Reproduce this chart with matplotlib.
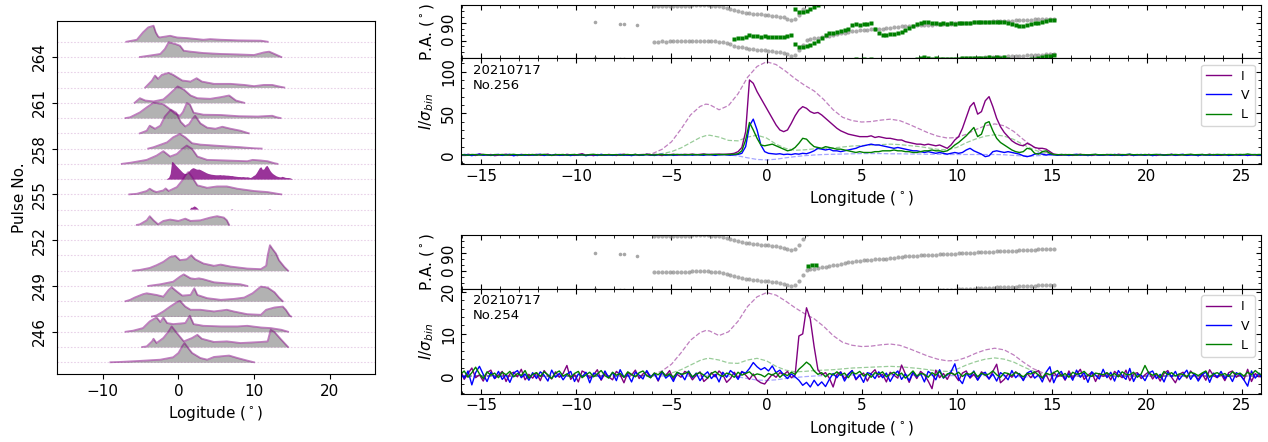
import numpy as np
import matplotlib
matplotlib.use("Agg")
import matplotlib.pyplot as plt
from matplotlib.ticker import AutoMinorLocator, MultipleLocator

# ---- single pulses, I/V/L in units of sigma, 0.2 deg bins starting at -16.1 ----
lon_start = -16.1
lon_step = 0.2

I_256 = [0.3, -0.5, 0.8, 0.2, -0.6, 1.2, 0.4, -0.3, 0.6, -0.8,
         -0.2, 0.5, 0.9, -0.4, 0.1, -0.7, 0.6, 0.3, -0.5, 0.2,
         0.7, -0.3, 0.4, 1.0, -0.6, 0.2, 0.5, -0.4, 0.8, 0.1,
         -0.5, 0.6, 1.5, -0.2, 0.3, -0.8, 0.5, 0.2, -0.4, 0.7,
         0.1, -0.6, 0.4, 0.9, -0.3, 0.2, 0.6, -0.5, 0.3, 0.8,
         -0.4, 0.5, 0.2, -0.7, 0.6, 0.3, 0.9, -0.2, 0.4, 0.7,
         0.5, 1.0, 0.3, 0.8, 1.2, 0.4, 0.9, 0.6, 1.1, 0.7,
         1.0, 1.3, 2.0, 4.0, 9.0, 28, 90, 86, 76, 68,
         60, 52, 44, 36, 30, 28, 30, 38, 47, 54,
         58, 56, 52, 50, 51, 48, 44, 40, 36, 32,
         29, 27, 25, 24, 23, 22, 22, 22, 23, 21,
         22, 21, 20, 20, 19, 18, 18, 16, 15, 14,
         13, 13, 12, 13, 12, 11, 12, 10, 8, 12,
         18, 22, 32, 45, 58, 63, 49, 52, 65, 70,
         58, 44, 34, 27, 22, 17, 14, 12, 11, 14,
         12, 9, 8, 8, 7, 4, 1, 0.5, -0.3, 0.6,
         0.2, -0.5, 0.4, 0.8, -0.2, 0.3, -0.6, 0.5, 0.1, -0.4,
         0.6, 0.2, -0.5, 0.9, 0.3, -0.3, 0.5, -0.7, 0.4, 0.2,
         -0.3, 0.7, 0.1, -0.6, 0.5, 0.3, -0.2, 0.8, -0.5, 0.2,
         0.4, -0.4, 0.6, 0.2, -0.7, 0.5, 0.1, 0.9, -0.3, 0.3,
         -0.5, 0.4, 0.2, -0.3, 0.7, -0.1, 0.5, -0.6, 0.3, 0.1,
         0.4, -0.2]

V_256 = [-0.4, 0.6, 0.2, -0.8, 0.5, 0.9, -0.3, 0.4, -0.6, 0.3,
         0.7, -0.5, 0.3, 0.8, -1.0, 0.2, 0.5, -0.4, 0.6, -0.2,
         0.4, 0.9, -0.6, 0.2, -0.3, 0.7, -0.5, 0.3, 0.1, -0.7,
         0.5, -0.2, 0.6, -0.9, 0.3, 0.4, -0.6, 0.8, -0.1, 0.2,
         -0.5, 0.3, 0.7, -0.4, 0.2, -0.8, 0.5, 0.1, -0.3, 0.6,
         0.2, -0.6, 0.4, 0.8, -0.3, 0.5, -0.5, 0.3, 0.6, -0.2,
         0.4, -0.3, 0.5, 0.1, -0.4, 0.6, 0.2, -0.5, 0.3, 0.4,
         0.2, -0.3, 0.3, 0.6, 2, 10, 35, 43, 30, 12,
         4, 2, 1.5, 1, 1.5, 0.5, 1, 0.5, 1.5, 1,
         2, 1.5, 3, 5, 8, 7, 6, 7, 5, 5,
         4, 5, 6, 7, 8, 10, 11, 12, 13, 12,
         12, 11, 10, 9, 8, 9, 8, 7, 6, 5,
         5, 4, 3, 4, 3, 2, 3, 2, 1, 2,
         3, 2, 3, 6, 8, 5, 3, 1, -2, -1,
         4, 5, 4, 3, 4, 3, 2, 1, -1, -2,
         -1, 1, 2, 1, 0, 0.5, 0.2, -0.4, 0.5, 0.3,
         -0.6, 0.4, 0.8, -0.2, 0.5, -0.7, 0.3, 0.6, -0.4, 0.2,
         0.5, -0.3, 0.7, 0.1, -0.6, 0.4, 0.9, -0.5, 0.2, 0.6,
         -0.2, 0.5, -0.8, 0.3, 0.6, -0.4, 0.2, 0.7, -0.3, 0.4,
         0.8, -0.5, 0.3, 0.1, -0.7, 0.5, 0.2, -0.3, 0.6, -0.4,
         0.3, 0.7, -0.6, 0.2, 0.4, -0.2, 0.5, -0.5, 0.3, 0.6,
         -0.3, 0.2]

L_256 = [0.5, 0.2, -0.3, 0.6, 0.4, -0.2, 0.7, 0.3, -0.4, 0.5,
         0.3, 0.6, -0.2, 0.4, 0.8, 0.1, -0.3, 0.5, 0.2, 0.6,
         -0.1, 0.4, 0.7, 0.2, -0.4, 0.5, 0.3, 0.6, -0.2, 0.4,
         0.6, 0.1, 0.3, -0.3, 0.5, 0.8, 0.2, -0.2, 0.4, 0.3,
         0.2, 0.5, -0.3, 0.4, 0.6, 0.1, 0.7, -0.1, 0.3, 0.5,
         0.4, -0.2, 0.6, 0.3, 0.5, 0.1, 0.4, 0.7, 0.2, 0.5,
         0.3, 0.6, 0.4, 0.2, 0.7, 0.5, 0.3, 0.8, 0.4, 0.6,
         0.5, 0.7, 0.8, 1.5, 5, 18, 39, 30, 20, 12,
         11, 12, 13, 11, 9, 7, 5, 6, 9, 14,
         20, 19, 14, 10, 9, 8, 10, 9, 8, 7,
         7, 6, 5, 4, 3, 4, 3, 3, 3, 4,
         4, 5, 5, 5, 6, 5, 5, 4, 4, 3,
         3, 4, 5, 5, 6, 5, 5, 4, 5, 8,
         12, 15, 19, 23, 28, 33, 22, 25, 38, 40,
         29, 20, 15, 12, 9, 6, 4, 3, 4, 8,
         7, 2, 1, 4, 5, 2, 0.5, 0.3, 0.6, 0.2,
         0.5, 0.3, -0.2, 0.6, 0.4, 0.1, 0.5, 0.7, 0.2, 0.4,
         0.3, 0.6, 0.2, -0.1, 0.5, 0.4, 0.8, 0.3, 0.5, 0.1,
         0.6, 0.2, 0.4, 0.7, 0.3, -0.2, 0.5, 0.4, 0.6, 0.3,
         0.2, 0.5, 0.8, 0.3, 0.4, 0.6, 0.1, 0.5, 0.3, 0.7,
         0.4, 0.2, 0.6, 0.5, 0.3, 0.7, 0.4, 1.2, 0.5, 0.3,
         0.6, 0.4]

I_254 = [1.5, -0.8, 0.6, 1.9, -0.4, 0.3, -1.2, 0.8, 1.4, -0.6,
         0.2, 1.1, -1.3, 0.5, 0.9, -0.2, 1.6, -0.9, 0.4, -0.5,
         0.8, -1.1, 1.3, 0.1, -0.7, 1.0, -0.3, 0.6, 2.5, -0.8,
         0.4, -1.4, 1.2, 0.7, -0.5, 0.3, 1.5, -1.0, 0.6, -0.2,
         -0.9, 1.1, 0.3, -1.6, 0.8, 0.2, 1.4, -0.6, 0.5, 1.0,
         -0.4, 0.7, -1.2, 0.9, 0.1, 1.3, -0.8, 0.4, -0.3, 1.1,
         0.6, -0.9, 0.2, 1.0, -1.3, -0.5, 0.8, -0.2, 1.2, 0.3,
         -1.5, -0.6, 0.9, -0.4, 1.1, 0.2, -0.8, 0.5, -1.0, -1.6,
         -1.9, -0.7, 0.4, -0.3, 0.8, 0.3, 1.1, -0.4, 0.2, 9.5,
         10.0, 16.2, 13.5, 7.0, 1.5, 0.3, 0.8, -0.5, -2.6, 0.4,
         1.0, -0.6, 0.5, 1.3, -0.9, 0.2, 0.7, -1.2, 0.6, 1.5,
         -0.3, 0.4, -1.4, 0.9, 0.2, -0.5, 2.6, 0.5, -1.5, 0.8,
         -0.6, 1.1, 0.3, -1.2, -3.0, 1.4, -0.4, 0.6, -0.8, 0.9,
         0.2, -1.1, 0.7, 1.2, -0.5, 0.4, -0.9, 1.0, 0.3, -0.7,
         1.1, 2.8, -1.6, -0.8, 0.5, -0.3, 1.0, 0.2, -0.9, 0.6,
         -0.4, 0.8, 1.3, -0.6, 0.3, -1.4, 0.9, -0.2, 0.5, -1.0,
         1.2, -0.5, 0.4, 1.6, -0.8, 0.2, 0.9, -1.3, 0.6, -0.1,
         0.7, -0.9, 1.1, 0.3, -0.4, 1.4, -1.1, 0.5, 0.8, -0.6,
         0.3, 1.0, -0.7, 0.5, -1.2, 0.6, 1.3, -0.3, -1.6, 0.4,
         0.9, -0.5, 1.2, 0.2, -0.8, 0.6, -1.0, 1.5, 0.1, -0.4,
         0.5, -1.1, 0.8, 1.2, -0.3, 0.4, -0.9, 1.6, -1.3, 0.6,
         -0.2, 0.9]

V_254 = [0.6, -0.5, 1.2, -2.1, 0.8, 2.3, 0.4, -1.3, 0.9, -0.6,
         1.1, -0.8, 0.3, -1.5, 0.7, 1.3, -0.4, 0.5, -1.0, 0.8,
         -0.6, 1.0, 0.2, -1.2, 1.4, -0.3, 0.6, -0.9, 0.4, 1.1,
         -1.3, 0.5, -0.2, 0.9, -1.6, 0.7, 0.3, -0.8, 1.2, -0.4,
         0.8, -1.1, 1.5, -0.3, 0.4, -1.4, 0.9, 0.2, -0.7, 1.3,
         -0.2, 0.6, -1.0, 1.1, -0.5, 0.3, -1.3, 0.8, 0.5, -0.9,
         1.2, -0.4, 0.7, -1.1, 0.2, 1.0, -0.6, 0.4, -1.4, 0.9,
         -0.3, 1.3, 0.5, -0.8, 1.0, 0.7, 1.8, 3.2, 2.2, 1.5,
         2.0, 1.2, 2.4, 0.8, 1.4, 0.3, -0.6, 0.5, -0.2, -1.0,
         -2.2, -1.5, -2.6, -1.0, -2.3, -1.4, -2.5, -0.8, 0.6, -0.4,
         0.9, -1.2, 0.4, 1.3, -0.7, 0.2, -1.5, 0.8, 0.5, -0.6,
         1.0, -0.4, 0.7, -1.3, 0.3, 1.2, -0.8, 0.5, -1.1, 0.9,
         -0.2, 0.6, -1.4, 1.1, 0.4, -0.9, 1.5, -0.5, 0.3, 1.0,
         2.9, -0.6, -1.8, 0.7, -0.3, 1.2, -1.0, 0.4, 0.9, -0.7,
         0.5, -1.2, 0.8, 0.2, -0.9, 1.3, -0.4, 0.6, -1.1, 0.7,
         1.2, -0.5, 0.3, -1.4, 0.9, 2.2, -1.6, 0.4, 1.1, -0.8,
         0.6, -1.0, 1.4, -0.3, 0.8, -1.5, 1.0, 0.2, -0.7, 1.6,
         -0.4, 0.9, -1.2, 1.3, 0.1, -0.8, 1.8, -1.3, 0.5, 0.2,
         -1.1, 0.7, 1.2, -0.6, 0.4, -1.4, 0.9, -0.2, 1.1, -0.9,
         0.3, 1.4, -0.8, 0.6, -1.2, 0.2, 1.0, -1.5, 0.7, -0.3,
         1.1, -0.6, 0.4, -1.3, 0.8, 0.3, -0.9, -2.4, 1.2, -0.5,
         0.7, -1.0]

L_254 = [0.4, 1.2, -0.3, 0.8, 2.1, 0.5, -0.6, 1.0, 0.2, 0.7,
         -0.4, 0.9, 0.3, 1.1, -0.2, 0.6, 0.1, 1.3, -0.5, 0.4,
         0.8, -0.1, 1.0, 0.3, -0.6, 0.7, 1.2, 0.0, 0.5, -0.3,
         0.6, 1.1, -0.4, 0.3, 0.9, -0.2, 0.5, 1.3, 0.1, -0.5,
         0.9, 0.2, 0.6, -0.3, 1.0, 0.4, -0.2, 0.8, 1.2, 0.1,
         -0.4, 0.7, 0.3, 1.1, 0.0, 0.5, -0.3, 0.9, 0.4, 0.6,
         1.0, -0.2, 0.5, 0.8, 0.2, -0.5, 0.6, 1.1, 0.3, -0.1,
         0.7, 0.4, -0.3, 0.9, 0.2, 0.6, 1.0, 0.1, 0.5, 0.3,
         -0.2, 0.6, 0.2, 0.8, -0.3, 0.5, 0.1, 0.9, 0.4, 1.6,
         2.4, 3.3, 2.6, 1.2, 0.4, 0.8, -0.2, 0.6, 0.3, 1.0,
         0.2, 0.7, -0.4, 0.9, 0.5, 1.1, 0.0, 0.6, -0.3, 0.8,
         0.4, 1.0, -0.2, 0.5, 0.9, 0.1, 0.7, -0.5, 0.3, 1.2,
         0.0, 0.6, 0.4, -0.3, 0.8, 0.2, 1.1, -0.4, 0.5, 0.7,
         0.3, 0.9, -0.1, 0.6, 0.4, 1.0, -0.2, 0.7, 0.2, 0.5,
         1.2, 0.3, -0.3, 0.8, 0.6, 0.1, 0.9, 0.4, -0.2, 0.6,
         0.5, 1.0, 0.2, -0.4, 0.7, 0.3, 0.8, 1.3, 0.0, 0.6,
         -0.3, 0.9, 0.4, 0.6, 1.1, 0.2, -0.1, 0.7, 0.5, 0.3,
         0.8, 0.1, 0.6, -0.2, 1.0, 0.4, 0.3, 0.9, -0.3, 0.5,
         2.5, 0.7, 0.2, 0.6, -0.4, 1.1, 0.3, 0.8, 0.0, 0.5,
         0.4, -0.2, 0.9, 0.6, 0.1, 0.7, 1.2, -0.3, 0.5, 0.8,
         0.2, 0.6, -0.1, 1.0, 0.4, 0.7, 0.0, 0.9, 0.3, 1.3,
         0.5, 0.2]

# ---- integrated profile (dashed), in the units of the No.254 panel ----
mean_lon = [-16.1, -7.0, -6.0, -5.5, -5.0, -4.5, -4.0, -3.5, -3.2, -3.0,
            -2.5, -2.0, -1.5, -1.0, -0.5, 0.0, 0.5, 1.0, 1.5, 2.0,
            2.5, 3.0, 3.5, 4.0, 4.5, 5.0, 5.5, 6.0, 6.5, 7.0,
            7.5, 8.0, 8.5, 9.0, 9.5, 10.0, 10.5, 11.0, 11.5, 12.0,
            12.5, 13.0, 13.5, 14.0, 14.5, 15.0, 15.5, 26.1]
mean_I = [0, 0, 0.3, 1.2, 2.8, 5.5, 8.5, 10.3, 10.8, 10.7,
          9.6, 10.5, 13.0, 16.5, 18.8, 19.8, 19.2, 17.8, 16.2, 14.8,
          13.6, 11.8, 9.6, 8.0, 7.3, 7.0, 7.1, 7.4, 7.6, 7.3,
          6.5, 5.6, 4.7, 4.0, 3.6, 3.7, 4.4, 5.4, 6.2, 6.6,
          6.2, 5.0, 3.3, 1.8, 0.8, 0.2, 0, 0]
mean_L = [0, 0, 0.1, 0.3, 0.7, 1.5, 2.6, 3.7, 4.1, 4.2,
          3.8, 3.1, 3.0, 3.8, 4.2, 3.6, 2.3, 1.4, 1.0, 1.1,
          1.3, 1.4, 1.5, 1.7, 1.9, 2.0, 2.1, 2.2, 2.3, 2.2,
          2.0, 1.8, 1.5, 1.2, 1.1, 1.6, 2.6, 3.4, 4.0, 4.3,
          4.0, 3.3, 2.2, 1.2, 0.5, 0.1, 0, 0]
mean_V = [0, 0, 0, 0, 0, 0, 0, 0, 0, 0,
          0, 0, -0.2, -0.6, -0.95, -1.05, -0.9, -0.6, -0.35, -0.15,
          0, 0.1, 0.15, 0.2, 0.25, 0.3, 0.3, 0.3, 0.25, 0.25,
          0.2, 0.2, 0.15, 0.15, 0.1, 0.1, 0.1, 0.1, 0.1, 0.1,
          0.05, -0.1, -0.2, -0.2, -0.1, 0, 0, 0]
mean_scale = {256: 5.65, 254: 1.0}

# ---- position angles (deg) ----
pa_mean_start = -5.9
pa_mean = [-5, -5, -4, -5, -4, -4, -4, -3, -3, -3,
           -2, -2, -2, -2, -2, -3, -4, -6, -9, -14,
           -20, -26, -31, -35, -39, -42, -44, -46, -48, -50,
           -52, -54, -56, -59, -63, -69, -76, -72, -50, -22,
           3, 8, 12, 15, 18, 21, 24, 28, 32, 36,
           40, 43, 46, 49, 51, 53, 55, 56, 58, 59,
           60, 62, 64, 67, 70, 72, 74, 75, 76, 77,
           78, 79, 80, 81, 82, 83, 84, 85, 86, 87,
           88, 89, 90, 91, 92, 93, 94, 95, 96, 97,
           98, 99, 99, 100, 101, 102, 103, 104, 105, 106,
           107, 108, 109, 110, 110, 111]
pa_iso_lon = [-9.0, -7.7, -7.5, -6.8]
pa_iso = [92, 86, 84, 77]

pa_256_start = -1.7
pa_256 = [10, 12, 11, 18, 26, 24, 22, 20, 21, 19,
          18, 17, 16, 17, 22, 30, -20, -33, -35, -30,
          -22, -12, 0, 15, 30, 36, 40, 44, 48, 53,
          60, 80, 84, 78, 86, 82, 88, 60, 38, 30,
          27, 32, 35, 40, 45, 52, 62, 75, 84, 90,
          96, 92, 88, 90, 86, 88, 85, 87, 86, 88,
          90, 89, 91, 93, 92, 94, 93, 95, 94, 96,
          93, 95, 88, 82, 80, 76, 74, 78, 84, 88,
          90, 95, 100, 104, 106]
pa_254_start = 2.2
pa_254 = [26, 28, 29]

# ---- pulse stack: knots of each profile (longitude, height in pulse units) ----
lon_265 = [-6.9, -5.5, -4.7, -4.0, -3.3, -3.0, -2.7, -2.5, -1.1, -0.2, 1.1, 3.3, 4.2, 5.6, 7.8, 10.9, 11.8]
amp_265 = [0, 0.13, 0.61, 0.94, 1.05, 0.61, 0.35, 0.28, 0.39, 0.28, 0.24, 0.13, 0.17, 0.13, 0.09, 0.07, 0]
lon_264 = [-5.1, -3.3, -2.4, -1.8, -1.3, -0.4, 0.2, 0.7, 1.6, 3.3, 5.6, 7.8, 10.0, 11.3, 12.0, 12.7, 13.6]
amp_264 = [0, 0.13, 0.2, 0.52, 0.96, 0.85, 0.74, 0.41, 0.35, 0.26, 0.2, 0.17, 0.13, 0.3, 0.35, 0.2, 0]
lon_262 = [-4.4, -3.5, -3.1, -2.7, -2.2, -1.3, -0.7, 0.5, 1.6, 2.4, 3.1, 4.7, 6.9, 8.7, 10.0, 11.3, 12.4, 13.1, 14.0]
amp_262 = [0, 0.46, 0.78, 0.57, 0.83, 0.96, 0.83, 0.46, 0.39, 0.61, 0.39, 0.24, 0.24, 0.17, 0.09, 0.17, 0.17, 0.09, 0]
lon_261 = [-5.8, -5.1, -4.4, -3.3, -2.0, -1.3, -0.7, -0.1, 0.7, 1.6, 2.5, 4.2, 5.6, 6.7, 7.6, 8.7]
amp_261 = [0, 0.3, 0.15, 0.09, 0.22, 0.52, 0.8, 1.07, 0.87, 0.48, 0.3, 0.26, 0.37, 0.48, 0.15, 0]
lon_260 = [-7.0, -6.4, -5.1, -4.2, -3.3, -2.9, -2.0, -1.3, -0.5, 0.2, 0.6, 1.1, 1.5, 2.0, 3.3, 5.6, 8.0, 10.5, 12.4, 13.0, 13.5]
amp_260 = [0, 0.05, 0.37, 0.7, 1.0, 0.98, 0.9, 0.65, 0.3, 0.15, 0.4, 0.98, 0.9, 0.35, 0.22, 0.2, 0.12, 0.1, 0.15, 0.05, 0]
lon_259 = [-5.1, -4.2, -3.8, -3.1, -2.4, -1.8, -1.0, -0.3, 0.3, 0.9, 1.4, 1.8, 2.2, 2.9, 3.8, 4.9, 5.8, 6.9, 8.2, 9.3]
amp_259 = [0, 0.17, 0.5, 0.3, 0.5, 1.1, 1.55, 1.35, 0.75, 0.45, 0.6, 0.9, 1.15, 0.65, 0.37, 0.3, 0.43, 0.3, 0.17, 0]
lon_258 = [-4.0, -3.3, -1.5, -0.7, 0.2, 0.9, 1.8, 2.9, 5.6, 8.2, 10.0, 11.0]
amp_258 = [0, 0.09, 0.41, 0.74, 0.96, 0.74, 0.35, 0.26, 0.17, 0.09, 0.02, 0]
lon_257 = [-7.5, -6.4, -4.2, -2.9, -2.0, -1.1, -0.2, 0.5, 1.1, 1.8, 2.5, 3.8, 6.4, 9.1, 9.8, 10.9, 11.8, 12.7, 13.1]
amp_257 = [0, 0.07, 0.26, 0.54, 0.83, 0.48, 0.65, 0.98, 1.2, 0.98, 0.48, 0.26, 0.22, 0.17, 0.26, 0.22, 0.17, 0.04, 0]
lon_255 = [-6.5, -5.5, -4.2, -3.8, -3.3, -2.9, -2.0, -1.7, -1.3, -0.2, 0.5, 0.9, 1.3, 1.8, 2.5, 3.8, 5.1, 6.4, 7.8, 10.0, 11.8, 13.1, 13.6]
amp_255 = [0, 0.04, 0.22, 0.37, 0.22, 0.15, 0.26, 0.39, 0.22, 0.48, 0.91, 1.24, 1.46, 1.13, 0.59, 0.43, 0.52, 0.52, 0.37, 0.22, 0.15, 0.04, 0]
lon_253 = [-5.5, -5.1, -4.2, -3.8, -3.3, -2.7, -2.0, -1.1, 0.0, 0.9, 1.6, 2.9, 4.2, 5.1, 6.0, 6.4, 6.7]
amp_253 = [0, 0.04, 0.3, 0.57, 0.3, 0.04, 0.26, 0.35, 0.26, 0.41, 0.26, 0.3, 0.48, 0.57, 0.48, 0.3, 0]
lon_250 = [-6.0, -5.1, -3.8, -2.9, -2.0, -1.1, -0.4, 0.2, 1.1, 1.7, 2.2, 3.3, 4.7, 5.6, 6.9, 9.1, 10.9, 11.6, 11.8, 12.1, 12.4, 12.9, 13.3, 14.0, 14.5]
amp_250 = [0, 0.05, 0.18, 0.36, 0.58, 0.9, 0.97, 0.69, 0.75, 1.01, 0.75, 0.47, 0.32, 0.4, 0.27, 0.14, 0.1, 0.32, 1.0, 1.67, 1.45, 1.12, 0.68, 0.25, 0]
lon_249 = [-4.0, -2.4, -0.7, 0.2, 0.7, 1.6, 2.2, 2.7, 3.3, 4.7, 6.4, 8.2, 9.1]
amp_249 = [0, 0.11, 0.28, 0.61, 0.76, 0.5, 0.46, 0.5, 0.44, 0.24, 0.17, 0.11, 0]
lon_248 = [-7.0, -6.4, -5.8, -4.7, -4.2, -2.9, -2.0, -1.3, -0.9, -0.2, 0.5, 1.6, 2.1, 2.5, 3.8, 5.6, 7.3, 8.7, 9.8, 10.9, 11.8, 12.7, 13.3, 13.8]
amp_248 = [0, 0.09, 0.24, 0.46, 0.52, 0.41, 0.3, 0.74, 0.92, 0.63, 0.37, 0.41, 0.85, 0.41, 0.2, 0.09, 0.15, 0.24, 0.52, 0.96, 0.89, 0.59, 0.24, 0]
lon_247 = [-3.5, -2.9, -2.0, -1.1, -0.2, 0.2, 0.9, 1.6, 2.9, 4.7, 6.4, 7.3, 9.1, 10.9, 11.6, 12.7, 13.8, 14.2, 14.7, 14.9]
amp_247 = [0, 0.07, 0.33, 0.65, 0.94, 1.02, 0.65, 0.44, 0.44, 0.33, 0.44, 0.33, 0.15, 0.11, 0.44, 0.59, 0.65, 0.44, 0.07, 0]
lon_246 = [-7.0, -6.0, -4.7, -3.8, -2.9, -2.4, -2.0, -1.5, -0.7, 0.9, 1.5, 2.0, 3.3, 5.6, 7.8, 9.1, 10.9, 12.2, 13.6, 14.5]
amp_246 = [0, 0.07, 0.24, 0.68, 0.94, 0.63, 0.94, 0.57, 0.5, 0.57, 1.05, 0.5, 0.39, 0.35, 0.35, 0.39, 0.28, 0.24, 0.13, 0]
lon_245 = [-4.8, -4.2, -3.5, -3.3, -2.9, -2.0, -1.3, -0.9, -0.2, 0.7, 1.8, 2.5, 3.1, 4.7, 6.4, 8.2, 10.9, 11.8, 12.2, 12.7, 13.6, 14.5]
amp_245 = [0, 0.04, 0.37, 0.54, 0.26, 0.59, 1.02, 1.35, 0.91, 0.37, 0.59, 0.8, 0.54, 0.33, 0.37, 0.26, 0.33, 0.37, 1.13, 0.98, 0.48, 0]
lon_244 = [-9.0, -7.8, -5.1, -2.4, -0.7, 0.0, 0.5, 0.8, 1.1, 1.8, 2.9, 3.8, 4.7, 5.6, 6.7, 7.8, 9.1, 10.0]
amp_244 = [0, 0.02, 0.09, 0.17, 0.33, 0.61, 1.05, 1.26, 1.05, 0.61, 0.28, 0.17, 0.35, 0.39, 0.44, 0.28, 0.11, 0]

pulse_numbers = list(range(244, 266))
stack_scale = 0.0129   # height of one sigma in the stack, in pulse units

xlim = (-16.07, 26.0)

lon_grid = lon_start + lon_step * np.arange(len(I_256))
# on-pulse window of the integrated profile
on_pulse = (lon_grid > mean_lon[2]) & (lon_grid < mean_lon[-2])

fig = plt.figure(figsize=(12.68, 4.42), dpi=100)

# ---------------- left: stack of single pulses ----------------
ax = fig.add_axes([0.04495, 0.1538, 0.2508, 0.7998])

profiles = {
    265: (lon_265, amp_265), 264: (lon_264, amp_264), 262: (lon_262, amp_262),
    261: (lon_261, amp_261), 260: (lon_260, amp_260), 259: (lon_259, amp_259),
    258: (lon_258, amp_258), 257: (lon_257, amp_257),
    256: (lon_grid[on_pulse], np.array(I_256)[on_pulse] * stack_scale),
    255: (lon_255, amp_255),
    254: (lon_grid[on_pulse], np.array(I_254)[on_pulse] * stack_scale),
    253: (lon_253, amp_253), 250: (lon_250, amp_250), 249: (lon_249, amp_249),
    248: (lon_248, amp_248), 247: (lon_247, amp_247), 246: (lon_246, amp_246),
    245: (lon_245, amp_245), 244: (lon_244, amp_244),
}
highlight = [256, 254]

for p in pulse_numbers[::-1]:
    ax.plot([lon_grid[0], lon_grid[-1]], [p, p], color="purple", alpha=0.18,
            lw=0.8, ls=(0, (1.5, 1.5)))
    if p not in profiles:
        continue
    x, h = profiles[p]
    x = np.asarray(x)
    h = np.asarray(h)
    if p in highlight:
        # only the bright part of the pulse is filled
        h = np.where(h > 0.03, h, 0)
        ax.fill_between(x, p, p + h, where=h > 0, interpolate=True,
                        color="purple", alpha=0.8, lw=0)
    else:
        ax.fill_between(x, p, p + h, color="gray", alpha=0.6, lw=0)
        ax.plot(x, p + h, color="purple", alpha=0.5, lw=1.3)

ax.set_xlim(*xlim)
ax.set_ylim(243.23, 266.39)
ax.set_yticks(range(246, 265, 3))
ax.set_xticks([-10, 0, 10, 20])
ax.tick_params(labelsize=11)
ax.tick_params(axis="y", labelrotation=90)
for t in ax.get_yticklabels():
    t.set_va("center")
ax.set_xlabel(r"Logitude ($^\circ$)", fontsize=11)
ax.set_ylabel("Pulse No.", fontsize=11)


# ---------------- right: PA + polarization profiles ----------------
def style_axes(a):
    a.set_xlim(*xlim)
    a.xaxis.set_major_locator(MultipleLocator(5))
    a.xaxis.set_minor_locator(MultipleLocator(1))
    a.tick_params(which="both", direction="in", top=True, right=True, labelsize=11)
    a.tick_params(axis="y", labelrotation=90)
    for t in a.get_yticklabels():
        t.set_va("center")


def draw_pa(a, pa_lon, pa_vals):
    lon_mean = pa_mean_start + lon_step * np.arange(len(pa_mean))
    for off in (-180, 0, 180):
        a.plot(lon_mean, np.array(pa_mean) + off, "o", color="gray", ms=3.0,
               mec="none", alpha=0.65)
        a.plot(pa_iso_lon, np.array(pa_iso) + off, "o", color="gray", ms=2.6,
               mec="none", alpha=0.7)
        a.plot(pa_lon, np.array(pa_vals) + off, "s", color="green", ms=2.8,
               mec="none")
    a.set_ylim(-90, 180)
    a.set_yticks([0, 90])
    a.yaxis.set_minor_locator(MultipleLocator(30))
    style_axes(a)
    a.tick_params(labelbottom=False)
    a.set_ylabel(r"P.A. ($^\circ$)", fontsize=11)


def draw_profile(a, I, V, L, scale, label, ylim, ymajor):
    a.plot(mean_lon, np.array(mean_I) * scale, "--", color="purple", alpha=0.5, lw=0.9)
    a.plot(mean_lon, np.array(mean_V) * scale, "--", color="blue", alpha=0.35, lw=0.9)
    a.plot(mean_lon, np.array(mean_L) * scale, "--", color="green", alpha=0.4, lw=0.9)
    a.plot(lon_grid, I, color="purple", lw=1.0, label="I")
    a.plot(lon_grid, V, color="blue", lw=1.0, label="V")
    a.plot(lon_grid, L, color="green", lw=1.0, label="L")
    a.set_ylim(*ylim)
    a.yaxis.set_major_locator(MultipleLocator(ymajor))
    a.yaxis.set_minor_locator(AutoMinorLocator())
    style_axes(a)
    a.text(0.015, 0.95, label, transform=a.transAxes, fontsize=9.5, va="top")
    a.legend(loc="upper right", fontsize=9)
    a.set_xlabel(r"Longitude ($^\circ$)", fontsize=11)
    a.set_ylabel(r"$I/\sigma_{bin}$", fontsize=11)


ax_pa1 = fig.add_axes([0.36356, 0.8681, 0.6309, 0.1206])
ax_p1 = fig.add_axes([0.36356, 0.6290, 0.6309, 0.2391])
ax_pa2 = fig.add_axes([0.36356, 0.3462, 0.6309, 0.1222])
ax_p2 = fig.add_axes([0.36356, 0.1097, 0.6309, 0.2364])

draw_pa(ax_pa1, pa_256_start + lon_step * np.arange(len(pa_256)), pa_256)
draw_profile(ax_p1, I_256, V_256, L_256, mean_scale[256], "20210717\nNo.256",
             (-10.8, 116), 50)
draw_pa(ax_pa2, pa_254_start + lon_step * np.arange(len(pa_254)), pa_254)
draw_profile(ax_p2, I_254, V_254, L_254, mean_scale[254], "20210717\nNo.254",
             (-4.15, 20.65), 10)

fig.savefig("out.png", dpi=100)
